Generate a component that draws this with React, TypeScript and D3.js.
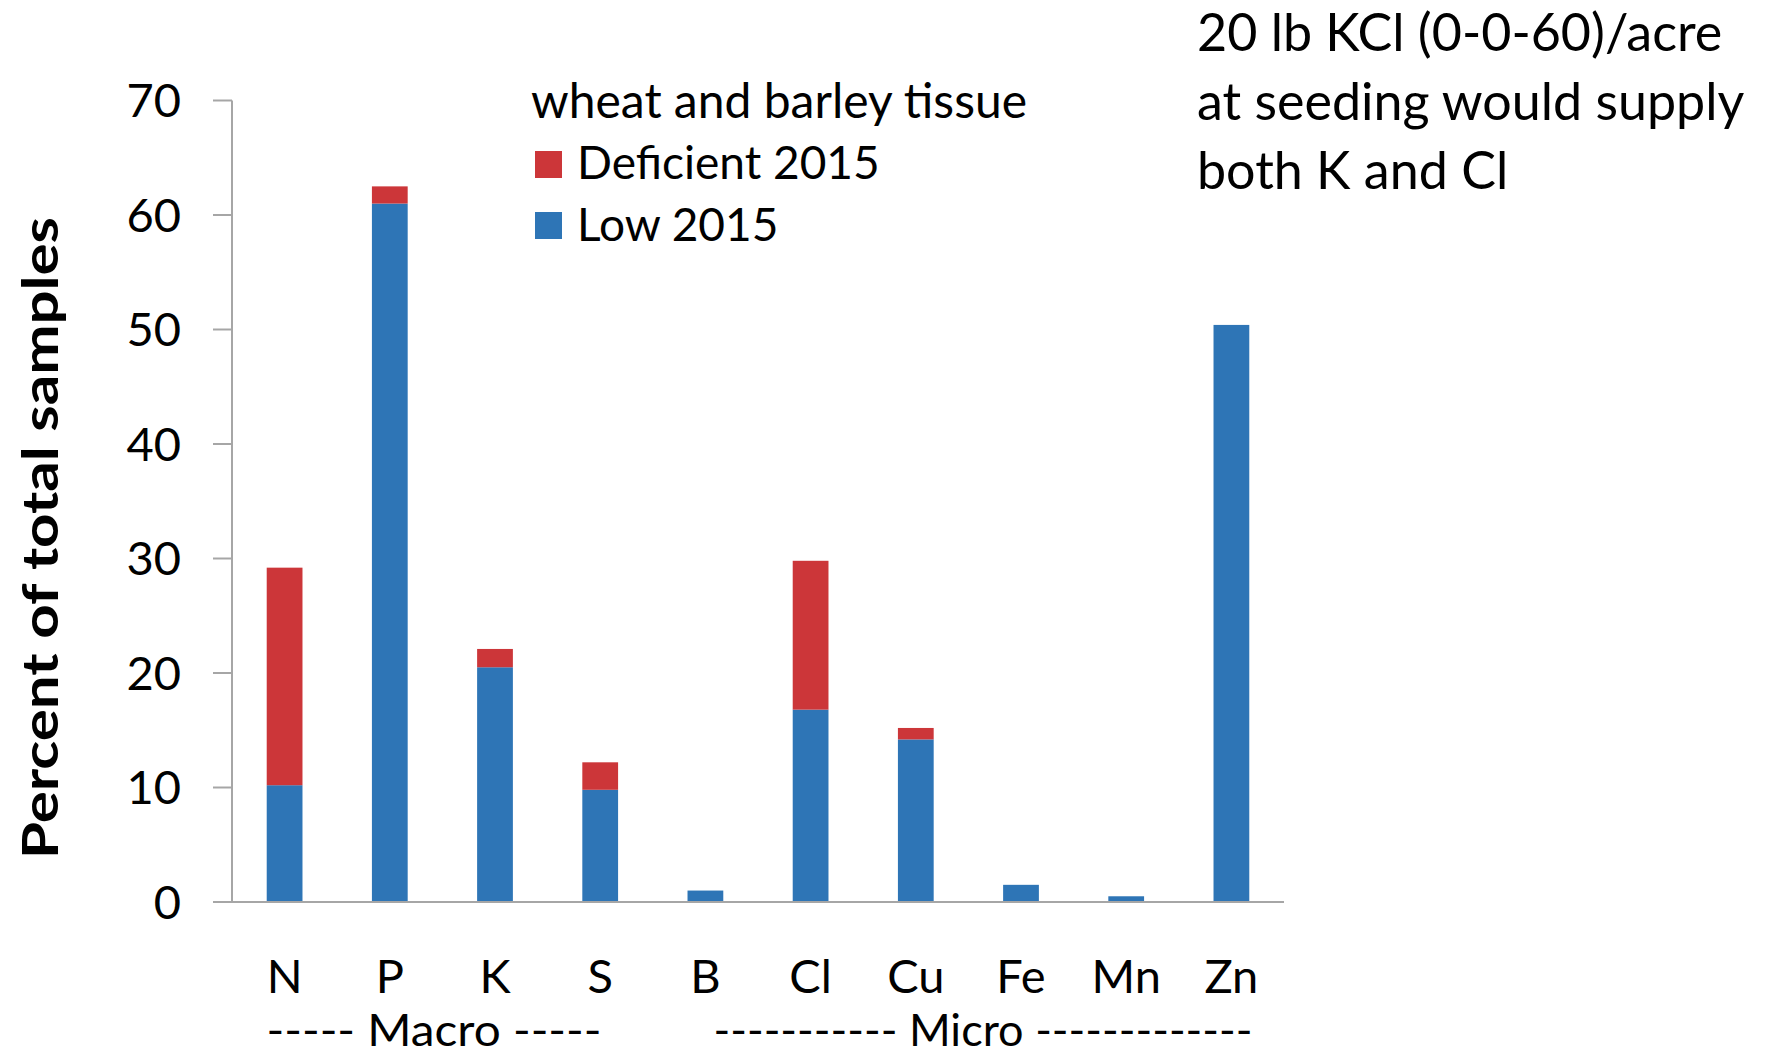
import React from 'react';
import * as d3 from 'd3';

const nutrients = ['N', 'P', 'K', 'S', 'B', 'Cl', 'Cu', 'Fe', 'Mn', 'Zn'];
const low2015 = [10.2, 61.0, 20.5, 9.8, 1.0, 16.8, 14.2, 1.5, 0.5, 50.4];
const deficient2015 = [19.0, 1.5, 1.6, 2.4, 0, 13.0, 1.0, 0, 0, 0];
const yTicks = [0, 10, 20, 30, 40, 50, 60, 70];
const seriesNames = ['Low 2015', 'Deficient 2015'];
const noteLines = ['20 lb KCl (0-0-60)/acre', 'at seeding would supply', 'both K and Cl'];

const W = 1791;
const H = 1060;
const BLUE = '#2e75b6';
const RED = '#cc3639';
const AXIS = '#a6a6a6';
const FONT = 'Lato, "Open Sans", sans-serif';

const App = () => {
  const left = 232;
  const right = 1284;
  const bottom = 902;
  const top = 100.5;

  const x = d3.scaleBand<string>().domain(nutrients).range([left, right]).paddingInner(0.66).paddingOuter(0.33);
  const y = d3.scaleLinear().domain([0, 70]).range([bottom, top]);

  const rows = nutrients.map((n, i) => ({ name: n, low: low2015[i], def: deficient2015[i] }));
  const stacked = d3.stack<any>().keys(['low', 'def'])(rows);
  const colors = [BLUE, RED];

  return (
    <svg width={W} height={H} style={{ display: 'block', position: 'absolute', left: 0, top: 0, background: '#fff' }}>
      <g>
        {stacked.map((layer, li) =>
          layer.map((d, i) =>
            d[1] - d[0] > 0 ? (
              <rect
                key={`${li}-${i}`}
                x={x(nutrients[i])}
                y={y(d[1])}
                width={x.bandwidth()}
                height={y(d[0]) - y(d[1])}
                fill={colors[li]}
              />
            ) : null
          )
        )}
      </g>

      {/* y axis */}
      <line x1={left} x2={left} y1={top} y2={bottom} stroke={AXIS} strokeWidth={2} />
      {yTicks.map((t) => (
        <g key={t}>
          <line x1={left - 19} x2={left} y1={y(t)} y2={y(t)} stroke={AXIS} strokeWidth={2} />
          <text x={181} y={y(t)} dy="0.36em" textAnchor="end" fontFamily={FONT} fontSize={47} fill="#000">
            {t}
          </text>
        </g>
      ))}
      {/* x axis */}
      <line x1={left} x2={right} y1={bottom} y2={bottom} stroke={AXIS} strokeWidth={2} />
      {nutrients.map((n) => (
        <text key={n} x={x(n)! + x.bandwidth() / 2} y={993} textAnchor="middle" fontFamily={FONT} fontSize={47} fill="#000">
          {n}
        </text>
      ))}
      <text x={434} y={1046} textAnchor="middle" fontFamily={FONT} fontSize={44} fill="#000" textLength={335} lengthAdjust="spacingAndGlyphs">
        -----  Macro  -----
      </text>
      <text x={983} y={1046} textAnchor="middle" fontFamily={FONT} fontSize={44} fill="#000" textLength={539} lengthAdjust="spacingAndGlyphs">
        -----------  Micro  -------------
      </text>

      {/* y title */}
      <text
        transform="translate(58,538) rotate(-90)"
        textAnchor="middle"
        fontFamily={FONT}
        fontWeight="bold"
        fontSize={50}
        fill="#000"
        textLength={642}
        lengthAdjust="spacingAndGlyphs"
      >
        Percent of total samples
      </text>

      {/* legend */}
      <text x={531} y={118} fontFamily={FONT} fontSize={48} fill="#000">
        wheat and barley tissue
      </text>
      {[1, 0].map((si, k) => (
        <g key={si}>
          <rect x={535} y={151 + k * 61} width={27} height={27} fill={colors[si]} />
          <text x={577} y={179 + k * 62} fontFamily={FONT} fontSize={46} fill="#000">
            {seriesNames[si]}
          </text>
        </g>
      ))}

      {/* note */}
      {noteLines.map((l, i) => (
        <text key={i} x={1197} y={51 + i * 69} fontFamily={FONT} fontSize={52} fill="#000">
          {l}
        </text>
      ))}
    </svg>
  );
};

export default App;
